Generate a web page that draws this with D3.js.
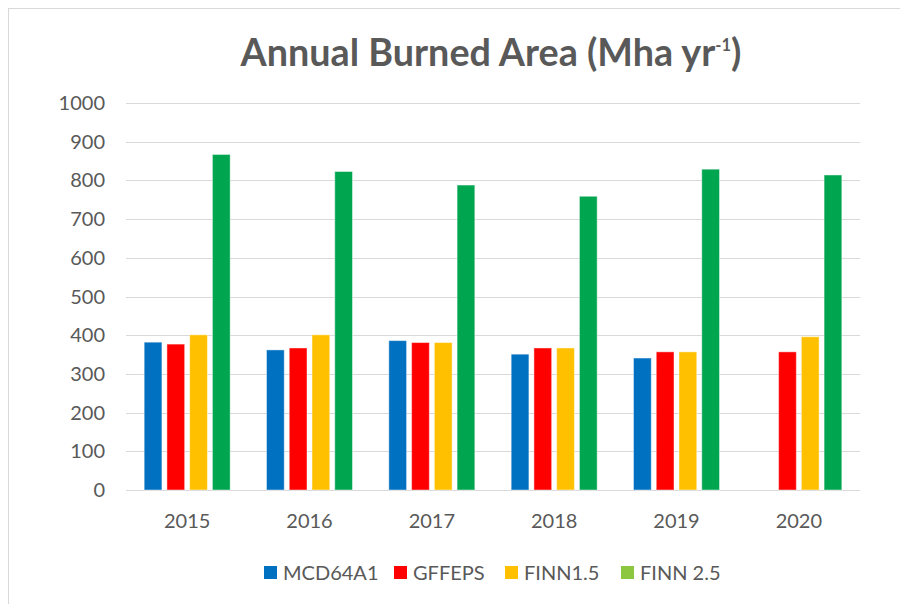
<!DOCTYPE html>
<html>
<head>
<meta charset="utf-8">
<script src="https://cdn.jsdelivr.net/npm/d3@7"></script>
<style>
  body { margin: 0; background: #fff; }
  svg text { font-family: Lato, "Liberation Sans", sans-serif; fill: #595959; }
</style>
</head>
<body>
<div id="chart"></div>
<script>
// data
const years = ["2015", "2016", "2017", "2018", "2019", "2020"];
const seriesNames = ["MCD64A1", "GFFEPS", "FINN1.5", "FINN 2.5"];
const mcd64a1 = [382, 362, 386, 351, 341, null];
const gffeps  = [377, 367, 381, 367, 357, 357];
const finn15  = [401, 401, 381, 367, 357, 396];
const finn25  = [867, 823, 788, 759, 829, 814];
const yTicks = [0, 100, 200, 300, 400, 500, 600, 700, 800, 900, 1000];

const barColors = ["#0070C0", "#FF0000", "#FFC000", "#00A550"];
const legendColors = ["#0070C0", "#FF0000", "#FFC000", "#8DC63F"];

const width = 900, height = 604;
const plot = {left: 126, right: 860, top: 103, bottom: 490};

const svg = d3.select("#chart").append("svg")
    .attr("width", width)
    .attr("height", height);

// chart frame (runs off the right / bottom edge like the screenshot)
svg.append("rect")
    .attr("x", 8.5).attr("y", 8.5)
    .attr("width", width + 10).attr("height", height + 10)
    .attr("fill", "none")
    .attr("stroke", "#d9d9d9");

const values = [mcd64a1, gffeps, finn15, finn25];
const rows = years.map((yr, i) => ({
    year: yr,
    bars: seriesNames.map((s, j) => ({series: s, idx: j, value: values[j][i]}))
}));

const x0 = d3.scaleBand()
    .domain(years)
    .range([plot.left, plot.right])
    .paddingInner(0.297)
    .paddingOuter(0.1485);

const x1 = d3.scaleBand()
    .domain(seriesNames)
    .range([0, x0.bandwidth()])
    .paddingInner(0.22);

const y = d3.scaleLinear()
    .domain([0, 1000])
    .range([plot.bottom, plot.top]);

// gridlines
svg.append("g")
    .selectAll("line")
    .data(yTicks)
    .enter().append("line")
    .attr("x1", plot.left)
    .attr("x2", plot.right)
    .attr("y1", d => Math.round(y(d)) + 0.5)
    .attr("y2", d => Math.round(y(d)) + 0.5)
    .attr("stroke", "#d9d9d9")
    .attr("stroke-width", 1);

// y tick labels
svg.append("g")
    .selectAll("text")
    .data(yTicks)
    .enter().append("text")
    .attr("x", 105)
    .attr("y", d => y(d))
    .attr("dy", "0.35em")
    .attr("text-anchor", "end")
    .style("font-size", "20px")
    .text(d => d);

// bars
const groups = svg.append("g")
    .selectAll("g")
    .data(rows)
    .enter().append("g")
    .attr("transform", d => `translate(${x0(d.year)},0)`);

groups.selectAll("rect")
    .data(d => d.bars.filter(b => b.value != null))
    .enter().append("rect")
    .attr("x", d => x1(d.series))
    .attr("y", d => y(d.value))
    .attr("width", x1.bandwidth())
    .attr("height", d => y(0) - y(d.value))
    .attr("fill", d => barColors[d.idx])
    .attr("stroke", "rgba(255,255,255,0.45)")
    .attr("stroke-width", 1);

// x labels
svg.append("g")
    .selectAll("text")
    .data(years)
    .enter().append("text")
    .attr("x", d => x0(d) + x0.bandwidth() / 2)
    .attr("y", 528)
    .attr("text-anchor", "middle")
    .style("font-size", "20px")
    .text(d => d);

// title
const title = svg.append("text")
    .attr("x", 491)
    .attr("y", 66)
    .attr("text-anchor", "middle")
    .style("font-size", "32px")
    .style("font-weight", "bold");
title.append("tspan").text("Annual Burned Area (Mha yr");
title.append("tspan").attr("dy", -15).style("font-size", "14px").text("-1");
title.append("tspan").attr("dy", 15).text(")");
// fit the title to the width it has in the reference
const tw = title.node().getBBox().width;
if (tw > 0) {
    const k = 502 / tw;
    title.style("font-size", (32 * k) + "px");
    title.selectAll("tspan").filter((d, i) => i === 1).style("font-size", (14 * k) + "px");
}

// legend
const legendX = [264, 394, 505, 621];
const legend = svg.append("g")
    .selectAll("g")
    .data(seriesNames)
    .enter().append("g")
    .attr("transform", (d, i) => `translate(${legendX[i]},566)`);

legend.append("rect")
    .attr("width", 13)
    .attr("height", 13)
    .attr("fill", (d, i) => legendColors[i]);

legend.append("text")
    .attr("x", 19)
    .attr("y", 13.5)
    .style("font-size", "20px")
    .text(d => d);
</script>
</body>
</html>
